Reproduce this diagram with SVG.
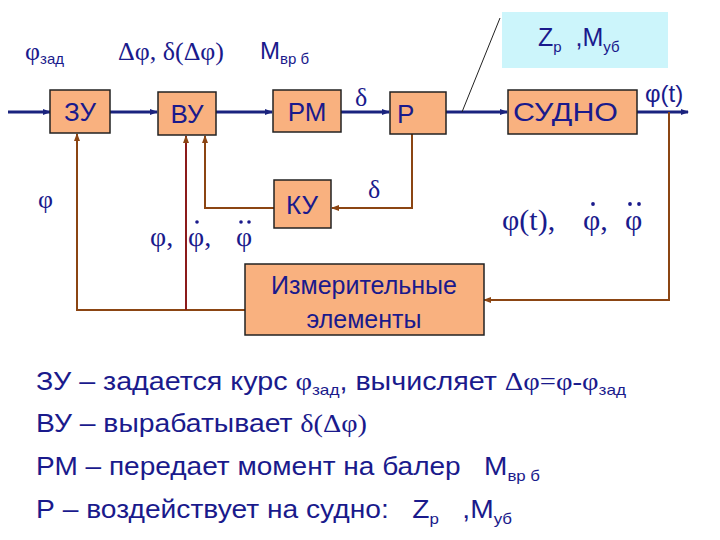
<svg xmlns="http://www.w3.org/2000/svg" width="720" height="540" viewBox="0 0 720 540">
<defs>
<marker id="ab" markerWidth="8" markerHeight="8" refX="7" refY="4" orient="auto" markerUnits="userSpaceOnUse"><path d="M0,1 L8,4 L0,7 Z" fill="#1a237e"/></marker>
<marker id="ar" markerWidth="8" markerHeight="8" refX="7" refY="4" orient="auto" markerUnits="userSpaceOnUse"><path d="M0,1 L8,4 L0,7 Z" fill="#8b4513"/></marker>
</defs>
<style>
.box{fill:#f9b17f;stroke:#222;stroke-width:1.5}
.t{font-family:"Liberation Sans",Arial,sans-serif;fill:#1a1a8c}
.s{font-family:"Liberation Serif","Times New Roman",serif;fill:#1a1a8c}
.b{stroke:#1a237e;stroke-width:3;fill:none}
.r{stroke:#8b4513;stroke-width:2;fill:none}
.d{fill:#1a1a8c}
</style>
<rect width="720" height="540" fill="#fff"/>
<rect x="502" y="12" width="166" height="56" fill="#ccf5fb"/>
<text class="t" font-size="25" x="538" y="46" xml:space="preserve">Z<tspan font-size="15" dy="6">р</tspan><tspan dy="-6">  ,М</tspan><tspan font-size="15" dy="6">уб</tspan></text>
<g id="connectors">
<line class="b" x1="8" y1="112" x2="50" y2="112" marker-end="url(#ab)"/>
<line class="b" x1="110" y1="112" x2="157" y2="112" marker-end="url(#ab)"/>
<line class="b" x1="216" y1="112" x2="272" y2="112" marker-end="url(#ab)"/>
<line class="b" x1="341" y1="112" x2="389" y2="112" marker-end="url(#ab)"/>
<line class="b" x1="446" y1="112" x2="507" y2="112" marker-end="url(#ab)"/>
<line class="b" x1="637" y1="112" x2="688" y2="112" marker-end="url(#ab)"/>
<line x1="462" y1="112" x2="500" y2="18" stroke="#222" stroke-width="1"/>
<polyline class="r" points="669,112 669,300 484,300" marker-end="url(#ar)"/>
<polyline class="r" points="245,310 77,310 77,134" marker-end="url(#ar)"/>
<line x1="186" y1="310" x2="186" y2="136" stroke="#8b1a1a" stroke-width="2" marker-end="url(#ar)"/>
<polyline class="r" points="412,134 412,208 332,208" marker-end="url(#ar)" stroke-width="3"/>
<polyline class="r" points="274,208 205,208 205,136" marker-end="url(#ar)"/>
</g>
<g id="zu"><rect class="box" x="50" y="90" width="60" height="43"/><text class="t" font-size="26" x="80" y="121" text-anchor="middle">ЗУ</text></g>
<g id="vu"><rect class="box" x="158" y="92" width="58" height="43"/><text class="t" font-size="26" x="187" y="123" text-anchor="middle">ВУ</text></g>
<g id="rm"><rect class="box" x="273" y="90" width="68" height="42"/><text class="t" font-size="26" x="307" y="121" text-anchor="middle">РМ</text></g>
<g id="r"><rect class="box" x="390" y="92" width="56" height="42"/><text class="t" font-size="26" x="397" y="123">Р</text></g>
<g id="sudno"><rect class="box" x="508" y="90" width="129" height="44"/><text class="t" font-size="26" x="513" y="121" textLength="105" lengthAdjust="spacingAndGlyphs">СУДНО</text></g>
<g id="ku"><rect class="box" x="274" y="180" width="57" height="48"/><text class="t" font-size="26" x="302" y="214" text-anchor="middle">КУ</text></g>
<g id="izm"><rect class="box" x="245" y="264" width="239" height="71"/><text class="t" font-size="25" x="364" y="294" text-anchor="middle">Измерительные</text><text class="t" font-size="25" x="364" y="328" text-anchor="middle">элементы</text></g>
<text class="s" font-size="26" x="25" y="60">φ<tspan class="t" font-size="15" dy="4">зад</tspan></text>
<text class="s" font-size="26" x="118" y="60">Δφ, δ(Δφ)</text>
<text class="t" font-size="24" x="260" y="59">М<tspan font-size="15" dy="5">вр б</tspan></text>
<text class="s" font-size="26" x="355" y="106">δ</text>
<text class="s" font-size="26" x="368" y="198">δ</text>
<text class="t" font-size="24" x="645" y="102">φ(t)</text>
<text class="s" font-size="26" x="38" y="208">φ</text>
<g class="s" font-size="28">
<text x="150" y="246">φ,</text><text x="188" y="246">φ,</text><text x="236" y="246">φ</text>
<text x="502" y="230" font-size="30">φ(t),</text><text x="583" y="230" font-size="30">φ,</text><text x="625" y="230" font-size="30">φ</text>
</g>
<circle class="d" cx="197" cy="222" r="1.8"/><circle class="d" cx="241" cy="222" r="1.8"/><circle class="d" cx="249" cy="222" r="1.8"/>
<circle class="d" cx="593" cy="204" r="1.9"/><circle class="d" cx="630" cy="204" r="1.9"/><circle class="d" cx="639" cy="204" r="1.9"/>
<g class="t" font-size="25">
<text x="36" y="390" textLength="590" lengthAdjust="spacingAndGlyphs">ЗУ – задается курс <tspan class="s">φ</tspan><tspan font-size="15" dy="5">зад</tspan><tspan dy="-5">, вычисляет </tspan><tspan class="s">Δφ=φ-φ</tspan><tspan font-size="15" dy="5">зад</tspan></text>
<text x="36" y="432" textLength="331" lengthAdjust="spacingAndGlyphs">ВУ – вырабатывает <tspan class="s">δ(Δφ)</tspan></text>
<text x="36" y="475" textLength="504" lengthAdjust="spacingAndGlyphs" xml:space="preserve">РМ – передает момент на балер   М<tspan font-size="15" dy="6">вр б</tspan></text>
<text x="36" y="518" textLength="476" lengthAdjust="spacingAndGlyphs" xml:space="preserve">Р – воздействует на судно:   Z<tspan font-size="15" dy="6">р</tspan><tspan dy="-6">   ,М</tspan><tspan font-size="15" dy="6">уб</tspan></text>
</g>
</svg>
